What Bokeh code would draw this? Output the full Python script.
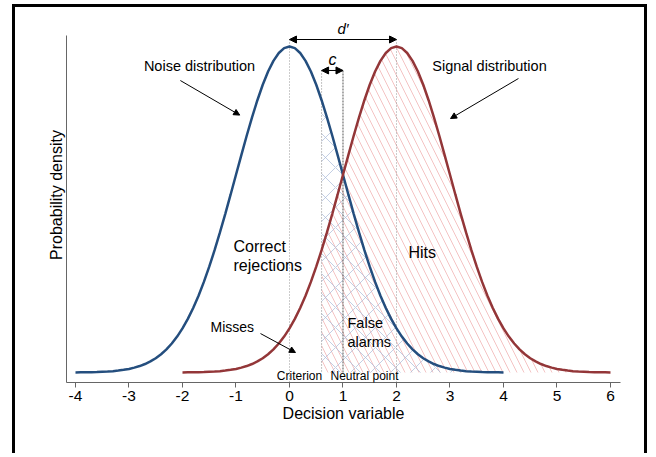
import numpy as np
from bokeh.plotting import figure
from bokeh.models import Range1d, Arrow, NormalHead, Label, FixedTicker
from bokeh.embed import file_html
from bokeh.resources import INLINE

# ---- data ----
# standard normal density read at 0.0, 0.1, ... 4.0 (right half; curves are symmetric)
half_density = [0.3989, 0.3970, 0.3910, 0.3814, 0.3683, 0.3521, 0.3332, 0.3123, 0.2897, 0.2661,
                0.2420, 0.2179, 0.1942, 0.1714, 0.1497, 0.1295, 0.1109, 0.0940, 0.0790, 0.0656,
                0.0540, 0.0440, 0.0355, 0.0283, 0.0224, 0.0175, 0.0136, 0.0104, 0.0079, 0.0060,
                0.0044, 0.0033, 0.0024, 0.0017, 0.0012, 0.0009, 0.0006, 0.0004, 0.0003, 0.0002,
                0.0001]
noise_mean = 0.0
signal_mean = 2.0          # d'
criterion = 0.6
neutral_point = 1.0
x_ticks = [-4, -3, -2, -1, 0, 1, 2, 3, 4, 5, 6]
x_tick_labels = ["-4", "-3", "-2", "-1", "0", "1", "2", "3", "4", "5", "6"]

offsets = np.round(np.arange(-40, 41) / 10.0, 1)
density = np.array(half_density[::-1] + half_density[1:])
noise_x = np.round(offsets + noise_mean, 1)
signal_x = np.round(offsets + signal_mean, 1)
noise_y = density
signal_y = density

NAVY = "#244e7e"
MAROON = "#933638"
FONT = "Liberation Sans"

PX = 817.2            # pixels per density unit
axis_top = 0.4124
y_end = axis_top + 28 / PX
y_start = -0.0122

p = figure(width=635, height=449, x_range=Range1d(-4.168, 6.187), y_range=Range1d(y_start, y_end),
           output_backend="svg", toolbar_location=None,
           min_border_left=51, min_border_right=30, min_border_top=0, min_border_bottom=74)
p.styles = {"margin-left": "12px", "margin-top": "4px",
            "border-top": "3px solid black", "border-left": "3px solid black",
            "border-right": "3px solid black"}
p.outline_line_color = None
p.xgrid.visible = False
p.ygrid.visible = False
p.background_fill_color = "white"
p.border_fill_color = "white"

# axes
p.xaxis.ticker = FixedTicker(ticks=x_ticks)
p.xaxis.major_label_overrides = dict(zip(x_ticks, x_tick_labels))
p.xaxis.axis_label = "Decision variable"
p.xaxis.axis_line_color = "#666666"
p.xaxis.major_tick_line_color = "#666666"
p.xaxis.major_tick_out = 5
p.xaxis.major_tick_in = 0
p.xaxis.minor_tick_line_color = None
p.xaxis.major_label_text_font = FONT
p.xaxis.major_label_text_font_size = "15.5px"
p.xaxis.major_label_text_color = "black"
p.xaxis.major_label_standoff = 3
p.xaxis.axis_label_text_font = FONT
p.xaxis.axis_label_text_font_size = "16px"
p.xaxis.axis_label_text_font_style = "normal"
p.xaxis.axis_label_text_color = "black"
p.xaxis.axis_label_standoff = 1

p.yaxis.ticker = FixedTicker(ticks=[])
p.yaxis.bounds = (y_start, axis_top)
p.yaxis.axis_label = "Probability density"
p.yaxis.axis_line_color = "#666666"
p.yaxis.major_tick_line_color = None
p.yaxis.minor_tick_line_color = None
p.yaxis.axis_label_text_font = FONT
p.yaxis.axis_label_text_font_size = "16px"
p.yaxis.axis_label_text_font_style = "normal"
p.yaxis.axis_label_text_color = "black"
p.yaxis.axis_label_standoff = 2

# hatched areas
fa = noise_x >= criterion - 1e-9
hit = signal_x >= criterion - 1e-9
p.varea(x=signal_x[hit], y1=0, y2=signal_y[hit], fill_alpha=0, hatch_pattern="left_diagonal_line",
        hatch_color="#eea0a0", hatch_alpha=0.8, hatch_scale=14, hatch_weight=0.8)
p.varea(x=noise_x[fa], y1=0, y2=noise_y[fa], fill_alpha=0, hatch_pattern="diagonal_cross",
        hatch_color="#aabbd8", hatch_alpha=0.9, hatch_scale=20, hatch_weight=0.8)

# guide lines
d_y = 0.4075
c_y = 0.3696
p.segment(x0=[noise_mean, signal_mean], y0=[d_y, d_y], x1=[noise_mean, signal_mean], y1=[y_start, y_start],
          line_color="#999999", line_dash="1 2", line_width=1)
p.segment(x0=[criterion], y0=[c_y], x1=[criterion], y1=[0], line_color="#888888", line_dash="1 2", line_width=1)
p.segment(x0=[neutral_point], y0=[c_y], x1=[neutral_point], y1=[0], line_color="#555555", line_dash="2 1", line_width=1)

# curves
p.line(noise_x, noise_y, line_color=NAVY, line_width=2.5)
p.line(signal_x, signal_y, line_color=MAROON, line_width=2.5)

# arrows
def arrow(x0, y0, x1, y1, both=False, size=6):
    p.add_layout(Arrow(x_start=x0, y_start=y0, x_end=x1, y_end=y1, line_width=1, line_color="black",
                       end=NormalHead(size=size, fill_color="black", line_color="black"),
                       start=NormalHead(size=size, fill_color="black", line_color="black") if both else None))

arrow(noise_mean, d_y, signal_mean, d_y, both=True, size=7)
arrow(criterion, c_y, neutral_point, c_y, both=True, size=7)
arrow(-2.04, 0.3573, -0.93, 0.3150)
arrow(4.28, 0.3598, 3.01, 0.3108)
arrow(-0.542, 0.0477, 0.112, 0.0245)

def label(x, y, t, size="14.5px", align="left", style="normal"):
    p.add_layout(Label(x=x, y=y, text=t, text_font=FONT, text_font_size=size, text_align=align,
                       text_baseline="middle", text_font_style=style, text_color="black"))

label(1.0, 0.4210, "d′", size="15px", align="center", style="italic")
label(0.804, 0.3830, "c", size="16px", align="center", style="italic")
label(-1.682, 0.3745, "Noise distribution", align="center")
label(3.738, 0.3745, "Signal distribution", align="center")
label(-1.047, 0.1542, "Correct", size="16px")
label(-1.047, 0.1310, "rejections", size="16px")
label(2.224, 0.1469, "Hits", size="16px")
label(-1.477, 0.0551, "Misses", size="14px")
label(1.084, 0.0600, "False", size="14.5px")
label(1.084, 0.0379, "alarms", size="14.5px")
label(0.187, -0.0037, "Criterion", size="12px", align="center")
label(1.402, -0.0037, "Neutral point", size="12px", align="center")

open("out.html", "w").write(file_html(p, INLINE))
